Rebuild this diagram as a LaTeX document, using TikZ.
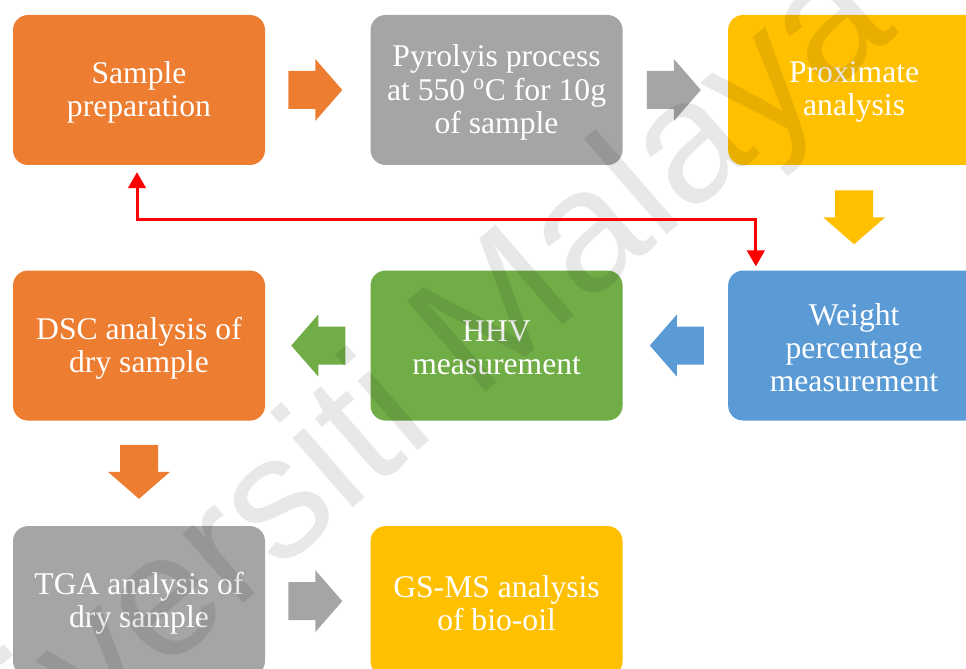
\documentclass[tikz,border=0pt]{standalone}
\usepackage{fontspec}
\setmainfont{Liberation Serif}
\newfontfamily\wmfont{Liberation Sans}
\usepackage{tikz}
\usetikzlibrary{positioning}
\usetikzlibrary{arrows}

\definecolor{stageorange}{HTML}{ED7D31}
\definecolor{stagegray}{HTML}{A5A5A5}
\definecolor{stageyellow}{HTML}{FFC000}
\definecolor{stageblue}{HTML}{5B9BD5}
\definecolor{stagegreen}{HTML}{70AD47}

\tikzset{
	stage/.style={rectangle, rounded corners=0.375cm, minimum width=6.3cm, minimum height=3.75cm, inner sep=0pt},
	stagetext/.style={yshift=-0.06cm, align=center, text=white, font=\fontsize{22.5}{23.5}\selectfont},
	flow/.pic={\fill (0,-0.475) -- (0.675,-0.475) -- (0.675,-0.775) -- (1.35,0) -- (0.675,0.775) -- (0.675,0.475) -- (0,0.475) -- cycle;},
	feedback/.style={draw=red, line width=0.075cm, arrows=triangle 60-triangle 60},
}

\begin{document}
\begin{tikzpicture}[node distance=2.625cm]
	\useasboundingbox (0,0) rectangle (24.15,-16.725);
	\node[stage, fill=stageorange, label={[stagetext]center:{Sample\\preparation}}] (prep) at (3.475,-2.25) {};
	\node[stage, fill=stagegray, right=of prep, label={[stagetext]center:{Pyrolyis process\\at 550 \textsuperscript{o}C for 10g\\of sample}}] (pyro) {};
	\node[stage, fill=stageyellow, right=of pyro, label={[stagetext]center:{Proximate\\analysis}}] (prox) {};
	\node[stage, fill=stageblue, below=of prox, label={[stagetext]center:{Weight\\percentage\\measurement}}] (weight) {};
	\node[stage, fill=stagegreen, left=of weight, label={[stagetext]center:{HHV\\measurement}}] (hhv) {};
	\node[stage, fill=stageorange, left=of hhv, label={[stagetext]center:{DSC analysis of\\dry sample}}] (dsc) {};
	\node[stage, fill=stagegray, below=of dsc, label={[stagetext]center:{TGA analysis of\\dry sample}}] (tga) {};
	\node[stage, fill=stageyellow, right=of tga, label={[stagetext]center:{GS-MS analysis\\of bio-oil}}] (gcms) {};

	% block arrows between the stages
	\pic[fill=stageorange] (a1) at ([xshift=0.575cm]prep.east) {flow};
	\pic[fill=stagegray] (a2) at ([xshift=0.6cm]pyro.east) {flow};
	\pic[fill=stageyellow, rotate=-90] (a3) at ([yshift=-0.625cm]prox.south) {flow};
	\pic[fill=stageblue, rotate=180] (a4) at ([xshift=-0.6cm]weight.west) {flow};
	\pic[fill=stagegreen, rotate=180] (a5) at ([xshift=-0.625cm]hhv.west) {flow};
	\pic[fill=stageorange, rotate=-90] (a6) at ([yshift=-0.6cm]dsc.south) {flow};
	\pic[fill=stagegray] (a7) at ([xshift=0.575cm]tga.east) {flow};

	% watermark
	\node[rotate=41, anchor=base, text=black, opacity=0.09, font=\wmfont\fontsize{124}{124}\selectfont]
		(mark) at (9.975,-11.7) {Universiti Malaya};

	% loop back to the start
	\coordinate (back) at (11.15,-5.5);
	\draw[feedback] ([xshift=-0.05cm, yshift=-0.175cm]prep.south) |- (back) -| ([xshift=0.7cm, yshift=0.1cm]weight.north west);
\end{tikzpicture}
\end{document}
